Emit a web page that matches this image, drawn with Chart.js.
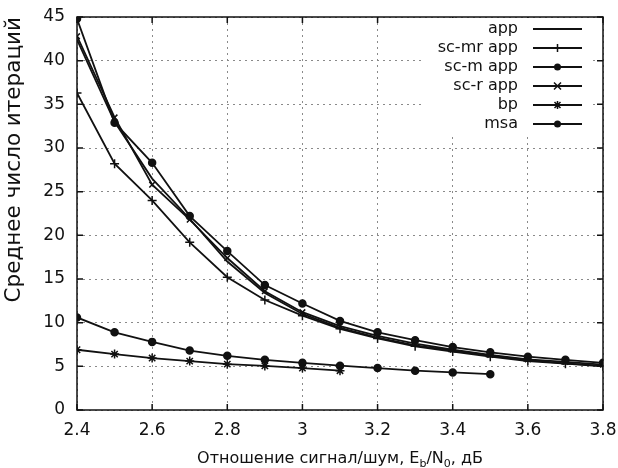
<!DOCTYPE html>
<html>
<head>
<meta charset="utf-8">
<script src="https://cdn.jsdelivr.net/npm/chart.js@4/dist/chart.umd.min.js"></script>
<style>
  html, body { margin: 0; padding: 0; background: #fff; }
  #wrap { width: 618px; height: 468px; }
</style>
</head>
<body>
<div id="wrap"><canvas id="c" width="618" height="468"></canvas></div>
<script>
// Eb/N0, дБ
const snr = [2.4, 2.5, 2.6, 2.7, 2.8, 2.9, 3.0, 3.1, 3.2, 3.3, 3.4, 3.5, 3.6, 3.7, 3.8];
const xTicks = [2.4, 2.6, 2.8, 3.0, 3.2, 3.4, 3.6, 3.8];

// среднее число итераций
const app     = [42.4, 33.0, 26.5, 21.9, 17.0, 13.4, 11.0, 9.4, 8.3, 7.4, 6.8, 6.2, 5.7, 5.35, 5.05];
const scMrApp = [36.3, 28.2, 24.0, 19.2, 15.2, 12.6, 10.8, 9.3, 8.2, 7.3, 6.7, 6.1, 5.6, 5.3, 5.0];
const scMApp  = [44.8, 32.9, 28.3, 22.2, 18.2, 14.3, 12.2, 10.2, 8.9, 8.0, 7.2, 6.6, 6.1, 5.75, 5.4];
const scRApp  = [42.8, 33.5, 25.8, 21.8, 17.4, 13.6, 11.2, 9.6, 8.5, 7.6, 6.9, 6.3, 5.8, 5.5, 5.2];
const bp      = [6.9, 6.4, 5.95, 5.6, 5.25, 5.05, 4.8, 4.5];
const msa     = [10.6, 8.9, 7.8, 6.8, 6.2, 5.75, 5.4, 5.07, 4.8, 4.5, 4.3, 4.1];

const FONT = '"DejaVu Sans", sans-serif';
const INK = '#111';

function pts(vals) {
  return vals.map((v, i) => ({ x: snr[i], y: v }));
}

function series(label, vals, style, r) {
  return {
    label: label,
    data: pts(vals),
    borderColor: INK,
    backgroundColor: INK,
    borderWidth: 1.8,
    pointStyle: style,
    pointRadius: r,
    pointBorderWidth: 1.5,
    pointBorderColor: INK,
    pointBackgroundColor: INK,
    tension: 0
  };
}

// маркер для легенды
function marker(ctx, style, x, y) {
  ctx.save();
  ctx.strokeStyle = INK; ctx.fillStyle = INK; ctx.lineWidth = 1.5;
  ctx.beginPath();
  if (style === 'circle') {
    ctx.arc(x, y, 3.5, 0, Math.PI * 2); ctx.fill();
  } else if (style === 'cross') {
    ctx.moveTo(x - 4, y); ctx.lineTo(x + 4, y);
    ctx.moveTo(x, y - 4); ctx.lineTo(x, y + 4); ctx.stroke();
  } else if (style === 'crossRot') {
    ctx.moveTo(x - 3.5, y - 3.5); ctx.lineTo(x + 3.5, y + 3.5);
    ctx.moveTo(x - 3.5, y + 3.5); ctx.lineTo(x + 3.5, y - 3.5); ctx.stroke();
  } else if (style === 'star') {
    ctx.moveTo(x - 4, y); ctx.lineTo(x + 4, y);
    ctx.moveTo(x, y - 4); ctx.lineTo(x, y + 4);
    ctx.moveTo(x - 3, y - 3); ctx.lineTo(x + 3, y + 3);
    ctx.moveTo(x - 3, y + 3); ctx.lineTo(x + 3, y - 3); ctx.stroke();
  }
  ctx.restore();
}

const framePlugin = {
  id: 'frame',
  afterDraw(chart) {
    const ctx = chart.ctx;
    const a = chart.chartArea;
    const xs = chart.scales.x, ys = chart.scales.y;
    ctx.save();
    // рамка и внутренние засечки
    ctx.strokeStyle = INK; ctx.lineWidth = 1.5;
    ctx.strokeRect(a.left, a.top, a.right - a.left, a.bottom - a.top);
    ctx.beginPath();
    xTicks.forEach(t => {
      const px = xs.getPixelForValue(t);
      ctx.moveTo(px, a.bottom); ctx.lineTo(px, a.bottom - 6);
      ctx.moveTo(px, a.top); ctx.lineTo(px, a.top + 6);
    });
    ys.ticks.forEach(t => {
      const py = ys.getPixelForValue(t.value);
      ctx.moveTo(a.left, py); ctx.lineTo(a.left + 6, py);
      ctx.moveTo(a.right, py); ctx.lineTo(a.right - 6, py);
    });
    ctx.stroke();

    // легенда
    const rowH = 19;
    const textRight = a.right - 85;
    const lineL = a.right - 70, lineR = a.right - 21;
    ctx.fillStyle = '#fff';
    ctx.fillRect(a.right - 178, a.top + 1, 164, 6 * rowH + 4);
    ctx.font = '16px ' + FONT;
    ctx.textAlign = 'right'; ctx.textBaseline = 'middle';
    chart.data.datasets.forEach((ds, i) => {
      const y = a.top + 12 + i * rowH;
      ctx.fillStyle = INK;
      ctx.fillText(ds.label, textRight, y);
      ctx.strokeStyle = INK; ctx.lineWidth = 1.8;
      ctx.beginPath(); ctx.moveTo(lineL, y); ctx.lineTo(lineR, y); ctx.stroke();
      if (ds.pointRadius > 0) marker(ctx, ds.pointStyle, (lineL + lineR) / 2, y);
    });

    // подпись оси X с индексами
    ctx.fillStyle = INK;
    ctx.textBaseline = 'alphabetic';
    ctx.textAlign = 'left';
    const parts = [
      ['Отношение сигнал/шум, E', 16, 0], ['b', 11, 4], ['/N', 16, 0], ['0', 11, 4], [', дБ', 16, 0]
    ];
    let w = 0;
    parts.forEach(p => { ctx.font = p[1] + 'px ' + FONT; w += ctx.measureText(p[0]).width; });
    let x = (a.left + a.right) / 2 - w / 2;
    const base = 463;
    parts.forEach(p => {
      ctx.font = p[1] + 'px ' + FONT;
      ctx.fillText(p[0], x, base + p[2]);
      x += ctx.measureText(p[0]).width;
    });
    ctx.restore();
  }
};

new Chart(document.getElementById('c').getContext('2d'), {
  type: 'line',
  data: {
    datasets: [
      series('app', app, 'circle', 0),
      series('sc-mr app', scMrApp, 'cross', 4.5),
      series('sc-m app', scMApp, 'circle', 3.5),
      series('sc-r app', scRApp, 'crossRot', 4),
      series('bp', bp, 'star', 4.5),
      series('msa', msa, 'circle', 3.5)
    ]
  },
  options: {
    responsive: false,
    animation: false,
    layout: { padding: { left: 0, right: 15, top: 17, bottom: 0 } },
    plugins: { legend: { display: false }, tooltip: { enabled: false } },
    scales: {
      x: {
        type: 'linear',
        min: 2.4, max: 3.8,
        afterBuildTicks: s => { s.ticks = xTicks.map(v => ({ value: v })); },
        afterFit: s => { s.height = 58; s.paddingLeft = 0; s.paddingRight = 0; },
        grid: { color: '#8a8a8a', lineWidth: 1, drawTicks: false },
        border: { display: false, dash: [2, 4] },
        ticks: { color: INK, font: { family: FONT, size: 17 }, padding: 10, maxRotation: 0,
                 callback: v => String(parseFloat(v.toFixed(1))) }
      },
      y: {
        min: 0, max: 45,
        afterFit: s => { s.width = 77; s.paddingTop = 0; s.paddingBottom = 0; },
        grid: { color: '#8a8a8a', lineWidth: 1, drawTicks: false },
        border: { display: false, dash: [2, 4] },
        ticks: { stepSize: 5, color: INK, font: { family: FONT, size: 17 }, padding: 12 },
        title: { display: true, text: 'Среднее число итераций', color: INK, align: 'end',
                 font: { family: FONT, size: 21.5 }, padding: { top: 2, bottom: 2 } }
      }
    }
  },
  plugins: [framePlugin]
});
</script>
</body>
</html>
